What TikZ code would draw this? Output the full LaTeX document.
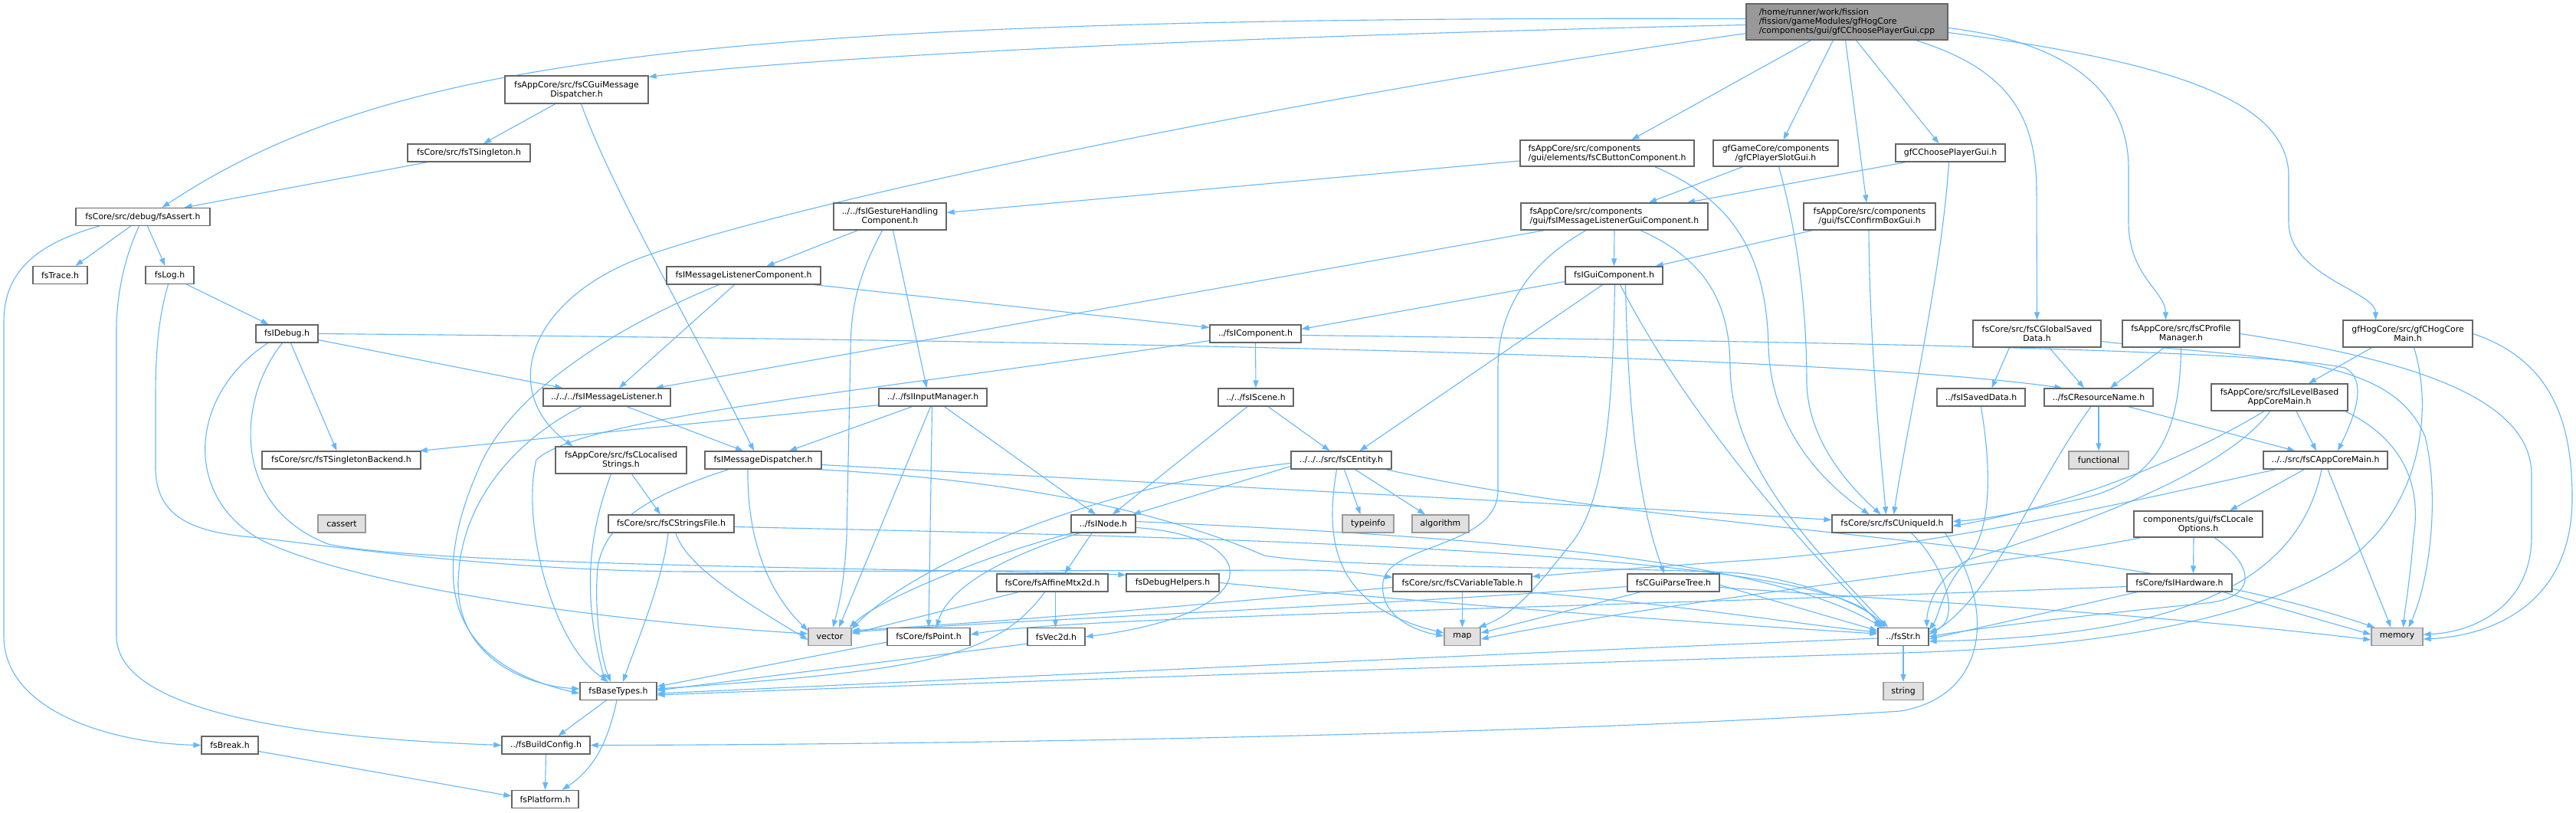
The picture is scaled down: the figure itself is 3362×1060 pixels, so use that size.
\documentclass[tikz,border=0pt]{standalone}
\usepackage{fontspec}
\setmainfont{DejaVu Sans}
\usetikzlibrary{arrows.meta,calc}
\definecolor{edgec}{HTML}{63B8FF}
\definecolor{bordc}{HTML}{666666}
\definecolor{sysb}{HTML}{999999}
\definecolor{sysf}{HTML}{E0E0E0}
\definecolor{mainf}{HTML}{999999}
\pgfdeclarelayer{bg}
\pgfdeclarelayer{edges}
\pgfsetlayers{bg,edges,main}
\begin{document}
\begin{tikzpicture}[x=1pt,y=-1pt,
  nbox/.style={draw=bordc, fill=white, line width=1.3pt, inner sep=0pt, minimum height=23pt,
    font=\fontsize{10.9}{12}\selectfont, align=center, text=black},
  sbox/.style={nbox, draw=sysb, fill=sysf},
  mbox/.style={nbox, fill=mainf},
  lnk/.style={draw=edgec, line width=1.1pt, -{Triangle[length=10pt,width=7pt]}}]
\begin{pgfonlayer}{bg}
\fill[white] (0,0) rectangle (3362,1060);
\end{pgfonlayer}
\useasboundingbox (0,0) rectangle (3362,1060);

% ---------------- nodes ----------------
\node[mbox, minimum width=263pt, minimum height=47pt, align=left] (main) at (2410.5,28.5) {/home/runner/work/fission\\/fission/gameModules/gfHogCore\\/components/gui/gfCChoosePlayerGui.cpp};
\node[nbox, minimum width=187pt, minimum height=36pt] (guimsgdisp) at (752.5,117) {fsAppCore/src/fsCGuiMessage\\Dispatcher.h};
\node[nbox, minimum width=160pt] (tsingleton) at (612,199.5) {fsCore/src/fsTSingleton.h};
\node[nbox, minimum width=175pt] (assert) at (186.5,283) {fsCore/src/debug/fsAssert.h};
\node[nbox, minimum width=71pt] (trace) at (78.5,359) {fsTrace.h};
\node[nbox, minimum width=63pt] (log) at (221.5,359) {fsLog.h};
\node[nbox, minimum width=81pt] (idebug) at (374.5,435.5) {fsIDebug.h};
\node[nbox, minimum width=166pt] (imsglistener) at (792,518.5) {../../../fsIMessageListener.h};
\node[nbox, minimum width=207pt] (tsbackend) at (445.5,600.5) {fsCore/src/fsTSingletonBackend.h};
\node[sbox, minimum width=62pt] (cassert) at (446,683.5) {cassert};
\node[nbox, minimum width=171pt, minimum height=35pt] (localised) at (810.5,600.5) {fsAppCore/src/fsCLocalised\\Strings.h};
\node[nbox, minimum width=164pt] (stringsfile) at (876,683.5) {fsCore/src/fsCStringsFile.h};
\node[nbox, minimum width=147pt, minimum height=35pt] (gesture) at (1161.5,282.5) {../../fsIGestureHandling\\Component.h};
\node[nbox, minimum width=201pt] (imlcomp) at (970.5,359.5) {fsIMessageListenerComponent.h};
\node[nbox, minimum width=119pt] (icomponent) at (1638.5,435.5) {../fsIComponent.h};
\node[nbox, minimum width=141pt] (inputmgr) at (1217.5,518.5) {../../fsIInputManager.h};
\node[nbox, minimum width=98pt] (iscene) at (1639,518.5) {../../fsIScene.h};
\node[nbox, minimum width=152pt] (imsgdisp) at (996,600.5) {fsIMessageDispatcher.h};
\node[nbox, minimum width=84pt] (inode) at (1440,683.5) {../fsINode.h};
\node[nbox, minimum width=131pt] (entity) at (1750.5,600.5) {../../../src/fsCEntity.h};
\node[nbox, minimum width=127pt] (iguicomp) at (2106.5,359.5) {fsIGuiComponent.h};
\node[sbox, minimum width=67pt] (typeinfo) at (1785.5,683.5) {typeinfo};
\node[sbox, minimum width=74pt] (algorithm) at (1880,683.5) {algorithm};
\node[nbox, minimum width=157pt] (uniqueid) at (2469.5,683.5) {fsCore/src/fsCUniqueId.h};
\node[nbox, minimum width=227pt, minimum height=34pt, align=left] (button) at (2097.5,200) {fsAppCore/src/components\\/gui/elements/fsCButtonComponent.h};
\node[nbox, minimum width=163pt, minimum height=34pt] (slotgui) at (2317.5,200) {gfGameCore/components\\/gfCPlayerSlotGui.h};
\node[nbox, minimum width=143pt] (choosegui) at (2545.5,199.5) {gfCChoosePlayerGui.h};
\node[nbox, minimum width=244pt, minimum height=35pt, align=left] (imlguicomp) at (2107,282.5) {fsAppCore/src/components\\/gui/fsIMessageListenerGuiComponent.h};
\node[nbox, minimum width=172pt, minimum height=35pt] (confirmbox) at (2440,282.5) {fsAppCore/src/components\\/gui/fsCConfirmBoxGui.h};
\node[nbox, minimum width=167pt, minimum height=35pt] (globalsaved) at (2658.5,435.5) {fsCore/src/fsCGlobalSaved\\Data.h};
\node[nbox, minimum width=153pt, minimum height=35pt] (profilemgr) at (2846.5,435.5) {fsAppCore/src/fsCProfile\\Manager.h};
\node[nbox, minimum width=169pt, minimum height=35pt] (hogcoremain) at (3142.5,435.5) {gfHogCore/src/gfCHogCore\\Main.h};
\node[nbox, minimum width=115pt] (isaveddata) at (2585.5,518.5) {../fsISavedData.h};
\node[nbox, minimum width=142pt] (resname) at (2739,518.5) {../fsCResourceName.h};
\node[nbox, minimum width=178pt, minimum height=35pt] (levelbased) at (2975,518.5) {fsAppCore/src/fsILevelBased\\AppCoreMain.h};
\node[sbox, minimum width=78pt] (functional) at (2739,600.5) {functional};
\node[nbox, minimum width=162pt] (appcoremain) at (3035,600.5) {../../src/fsCAppCoreMain.h};
\node[nbox, minimum width=168pt, minimum height=34pt] (localeopts) at (2869,684) {components/gui/fsCLocale\\Options.h};
\node[nbox, minimum width=137pt] (ihardware) at (2844.5,760.5) {fsCore/fsIHardware.h};
\node[sbox, minimum width=67pt] (memory) at (3128.5,831) {memory};
\node[nbox, minimum width=181pt] (vartable) at (1908.5,760.5) {fsCore/src/fsCVariableTable.h};
\node[nbox, minimum width=120pt] (parsetree) at (2184,760.5) {fsCGuiParseTree.h};
\node[sbox, minimum width=47pt] (map) at (1908.5,831) {map};
\node[nbox, minimum width=66pt] (str) at (2484,831) {../fsStr.h};
\node[sbox, minimum width=52pt] (string) at (2484,902) {string};
\node[nbox, minimum width=145pt] (affine) at (1373.5,760.5) {fsCore/fsAffineMtx2d.h};
\node[nbox, minimum width=121pt] (debughelpers) at (1530.5,760.5) {fsDebugHelpers.h};
\node[sbox, minimum width=56pt] (vector) at (1083,831) {vector};
\node[nbox, minimum width=108pt] (point) at (1212,831) {fsCore/fsPoint.h};
\node[nbox, minimum width=75pt] (vec2d) at (1378.5,831) {fsVec2d.h};
\node[nbox, minimum width=100pt] (basetypes) at (807,902) {fsBaseTypes.h};
\node[nbox, minimum width=74pt] (break) at (300,972.5) {fsBreak.h};
\node[nbox, minimum width=115pt] (buildconfig) at (712.5,972.5) {../fsBuildConfig.h};
\node[nbox, minimum width=87pt] (platform) at (711.5,1043) {fsPlatform.h};

% ---------------- edges ----------------
\begin{pgfonlayer}{edges}
% main
\draw[lnk] ($(main.west)+(0,4)$) .. controls (1700,45) and (1100,70) .. ($(guimsgdisp.north east)+(0,2)$);
\draw[lnk] ($(main.west)+(0,-4)$) .. controls (900,20) and (500,80) .. ($(assert.north)+(25,0)$);
\draw[lnk] ($(main.south west)+(0,-9)$) .. controls (1700,125) and (1050,260) .. (840,335) .. controls (690,390) and (650,510) .. ($(localised.north west)+(23,0)$);
\draw[lnk] ($(main.south)+(-47,0)$) -- ($(button.north)+(32,0)$);
\draw[lnk] ($(main.south)+(-18,0)$) -- ($(slotgui.north)+(10,0)$);
\draw[lnk] ($(main.south)+(-2,0)$) -- ($(confirmbox.north)+(-4,0)$);
\draw[lnk] ($(main.south)+(12,0)$) -- ($(choosegui.north)+(-15,0)$);
\draw[lnk] ($(main.south)+(90,0)$) .. controls (2620,90) and (2658,150) .. (2658,250) -- (globalsaved.north);
\draw[lnk] ($(main.east)+(0,8)$) .. controls (2700,55) and (2778,120) .. (2778,220) -- (2778,290) .. controls (2778,360) and (2826,380) .. ($(profilemgr.north)+(-20,0)$);
\draw[lnk] ($(main.east)+(0,14)$) .. controls (2830,80) and (2987,130) .. (2987,230) -- (2987,290) .. controls (2987,360) and (3100,380) .. ($(hogcoremain.north)+(-42,0)$);
% guimsgdisp, tsingleton
\draw[lnk] ($(guimsgdisp.south)+(-28,0)$) -- ($(tsingleton.north)+(19,0)$);
\draw[lnk] ($(guimsgdisp.south)+(6,0)$) .. controls (800,250) and (900,420) .. ($(imsgdisp.north)+(-12,0)$);
\draw[lnk] ($(tsingleton.south)+(-54,0)$) -- ($(assert.north)+(54,0)$);
% assert
\draw[lnk] ($(assert.south)+(-16,0)$) -- ($(trace.north)+(20,0)$);
\draw[lnk] ($(assert.south)+(6,0)$) -- ($(log.north)+(-6,0)$);
\draw[lnk] ($(assert.south west)+(31,0)$) .. controls (40,320) and (5,360) .. (5,420) -- (5,830) .. controls (5,930) and (150,970) .. (break.west);
\draw[lnk] ($(assert.south)+(-5,0)$) .. controls (165,330) and (152,380) .. (152,430) -- (152,830) .. controls (152,940) and (450,965) .. (buildconfig.west);
% log
\draw[lnk] ($(log.south)+(22,0)$) -- ($(idebug.north)+(-24,0)$);
\draw[lnk] ($(log.south)+(-2,0)$) .. controls (205,420) and (203,470) .. (203,520) -- (203,610) .. controls (203,680) and (260,696) .. (340,702) .. controls (520,725) and (700,745) .. (900,746) -- (1700,744) .. controls (1760,744) and (1790,750) .. ($(vartable.west)+(0,-7)$);
% idebug
\draw[lnk] ($(idebug.south east)+(0,-4)$) -- ($(imsglistener.north west)+(26,0)$);
\draw[lnk] ($(idebug.south)+(5,0)$) -- ($(tsbackend.north)+(-6,0)$);
\draw[lnk] (idebug.east) .. controls (1500,445) and (2400,465) .. ($(resname.north west)+(24,0)$);
\draw[lnk] ($(idebug.south)+(-25,0)$) .. controls (240,520) and (240,660) .. (352,710) .. controls (500,775) and (850,815) .. ($(vector.west)+(0,-4)$);
\draw[lnk] ($(idebug.south)+(-6,0)$) .. controls (310,520) and (300,660) .. (428,710) .. controls (560,740) and (1300,743) .. ($(debughelpers.north west)+(0,2)$);
% imsglistener
\draw[lnk] ($(imsglistener.south)+(26,0)$) -- ($(imsgdisp.north)+(-26,0)$);
\draw[lnk] ($(imsglistener.south)+(-33,0)$) .. controls (680,570) and (600,650) .. (598,760) .. controls (596,860) and (690,895) .. ($(basetypes.west)+(0,-3)$);
% imlcomp
\draw[lnk] ($(imlcomp.south east)+(-9,0)$) -- ($(icomponent.west)+(0,-8)$);
\draw[lnk] ($(imlcomp.south)+(-12,0)$) -- ($(imsglistener.north)+(16,0)$);
\draw[lnk] ($(imlcomp.south)+(-32,0)$) .. controls (820,420) and (680,500) .. (630,600) .. controls (570,730) and (560,860) .. ($(basetypes.west)+(0,3)$);
% gesture
\draw[lnk] ($(gesture.south)+(-42,0)$) -- ($(imlcomp.north)+(30,0)$);
\draw[lnk] ($(gesture.south)+(4,0)$) -- ($(inputmgr.north)+(-8,0)$);
\draw[lnk] ($(gesture.south)+(-10,0)$) .. controls (1120,360) and (1110,400) .. (1110,460) -- (1105,700) .. controls (1102,760) and (1095,790) .. ($(vector.north)+(4,0)$);
% inputmgr
\draw[lnk] ($(inputmgr.south west)+(0,-2)$) -- ($(tsbackend.north east)+(-2,0)$);
\draw[lnk] ($(inputmgr.south)+(-27,0)$) -- ($(imsgdisp.north)+(34,0)$);
\draw[lnk] ($(inputmgr.south)+(15,0)$) -- ($(inode.north)+(-10,0)$);
\draw[lnk] ($(inputmgr.south)+(-3,0)$) -- ($(vector.north)+(12,0)$);
\draw[lnk] ($(inputmgr.south)+(-1,0)$) -- (point.north);
% icomponent
\draw[lnk] (icomponent.south) -- (iscene.north);
\draw[lnk] ($(icomponent.south west)+(0,-3)$) .. controls (1100,515) and (760,545) .. (700,600) .. controls (680,680) and (720,840) .. ($(basetypes.north)+(-13,0)$);
\draw[lnk] ($(icomponent.east)+(0,2)$) .. controls (2300,445) and (2950,455) .. (3060,480) .. controls (3090,495) and (3075,540) .. ($(appcoremain.north)+(16,0)$);
% iscene
\draw[lnk] ($(iscene.south)+(-11,0)$) -- ($(inode.north)+(12,0)$);
\draw[lnk] ($(iscene.south)+(16,0)$) -- ($(entity.north)+(-15,0)$);
% entity
\draw[lnk] ($(entity.south)+(4,0)$) -- ($(typeinfo.north)+(-10,0)$);
\draw[lnk] ($(entity.south)+(18,0)$) -- ($(algorithm.north)+(-20,0)$);
\draw[lnk] ($(entity.west)+(0,8)$) -- ($(inode.north east)+(-4,0)$);
\draw[lnk] ($(entity.west)+(0,4)$) .. controls (1450,630) and (1200,730) .. ($(vector.north east)+(0,2)$);
\draw[lnk] ($(entity.south)+(-6,0)$) .. controls (1730,700) and (1735,790) .. ($(map.west)+(0,-5)$);
\draw[lnk] ($(entity.south east)+(-8,0)$) .. controls (2200,700) and (2750,700) .. ($(memory.north west)+(5,0)$);
% imsgdisp
\draw[lnk] ($(imsgdisp.south)+(-45,0)$) .. controls (850,645) and (790,680) .. (780,740) .. controls (775,800) and (785,860) .. ($(basetypes.north)+(-10,0)$);
\draw[lnk] ($(imsgdisp.south)+(-20,0)$) .. controls (975,700) and (1000,770) .. ($(vector.west)+(0,-8)$);
\draw[lnk] ($(imsgdisp.east)+(0,6)$) .. controls (1500,630) and (2100,660) .. ($(uniqueid.west)+(0,-5)$);
\draw[lnk] ($(imsgdisp.south east)+(-5,0)$) .. controls (1300,625) and (1500,660) .. (1650,725) .. controls (1750,742) and (2150,740) .. (2270,748) .. controls (2370,760) and (2440,795) .. ($(str.north west)+(10,0)$);
% localised, stringsfile
\draw[lnk] ($(localised.south)+(14,0)$) -- ($(stringsfile.north)+(-14,0)$);
\draw[lnk] ($(localised.south)+(-13,0)$) .. controls (775,680) and (755,760) .. ($(basetypes.north)+(-17,0)$);
\draw[lnk] ($(stringsfile.south)+(-4,0)$) .. controls (865,760) and (830,840) .. ($(basetypes.north)+(6,0)$);
\draw[lnk] ($(stringsfile.south)+(6,0)$) .. controls (895,740) and (980,790) .. ($(vector.west)+(0,4)$);
\draw[lnk] ($(stringsfile.east)+(0,4)$) .. controls (1500,700) and (2400,715) .. ($(str.north west)+(3,0)$);
% inode
\draw[lnk] ($(inode.south)+(-15,0)$) -- ($(affine.north)+(16,0)$);
\draw[lnk] ($(inode.south)+(-31,0)$) .. controls (1330,720) and (1240,760) .. ($(point.north)+(10,0)$);
\draw[lnk] ($(inode.south west)+(2,0)$) .. controls (1300,720) and (1150,780) .. ($(vector.north east)+(-3,0)$);
\draw[lnk] ($(inode.east)+(0,5)$) .. controls (1650,700) and (1660,800) .. (vec2d.east);
\draw[lnk] ($(inode.east)+(0,-3)$) .. controls (1900,700) and (2300,725) .. ($(str.north west)+(6,0)$);
% affine, point, vec2d
\draw[lnk] ($(affine.south)+(4,0)$) -- ($(vec2d.north)+(-1,0)$);
\draw[lnk] ($(affine.south west)+(29,0)$) -- ($(vector.east)+(0,-4)$);
\draw[lnk] ($(affine.south)+(-10,0)$) .. controls (1300,860) and (1200,875) .. ($(basetypes.east)+(0,-3)$);
\draw[lnk] ($(point.west)+(0,7)$) -- ($(basetypes.east)+(0,-6)$);
\draw[lnk] ($(vec2d.south west)+(0,-3)$) -- ($(basetypes.east)+(0,-1)$);
% debughelpers, vartable, parsetree
\draw[lnk] (debughelpers.east) .. controls (1900,790) and (2250,815) .. ($(str.west)+(0,-4)$);
\draw[lnk] (vartable.south) -- (map.north);
\draw[lnk] ($(vartable.south east)+(-5,0)$) .. controls (2200,790) and (2350,815) .. ($(str.west)+(0,-6)$);
\draw[lnk] ($(vartable.west)+(0,6)$) .. controls (1500,795) and (1300,812) .. ($(vector.north east)+(0,4)$);
\draw[lnk] ($(parsetree.south)+(-43,0)$) -- ($(map.east)+(0,-5)$);
\draw[lnk] ($(parsetree.east)+(0,3)$) -- ($(str.west)+(0,-8)$);
\draw[lnk] ($(parsetree.west)+(0,5)$) .. controls (1800,790) and (1350,808) .. ($(vector.north east)+(0,6)$);
\draw[lnk] ($(parsetree.east)+(0,6)$) .. controls (2500,785) and (2800,800) .. ($(memory.west)+(0,4)$);
% str
\draw[lnk] (str.south) -- (string.north);
\draw[lnk] ($(str.west)+(0,2)$) .. controls (1900,855) and (1300,885) .. ($(basetypes.east)+(0,3)$);
% uniqueid
\draw[lnk] ($(uniqueid.south)+(25,0)$) .. controls (2540,740) and (2560,810) .. ($(str.east)+(0,-6)$);
\draw[lnk] ($(uniqueid.south east)+(-10,0)$) .. controls (2610,800) and (2590,910) .. (2480,928) .. controls (2000,960) and (1200,972) .. (buildconfig.east);
% basetypes, break, buildconfig
\draw[lnk] ($(basetypes.south)+(-16,0)$) -- ($(buildconfig.north)+(16,0)$);
\draw[lnk] ($(basetypes.south)+(-2,0)$) .. controls (795,960) and (780,1000) .. ($(platform.north east)+(-22,0)$);
\draw[lnk] ($(break.east)+(0,8)$) -- ($(platform.west)+(0,-4)$);
\draw[lnk] (buildconfig.south) -- (platform.north);
% button, slotgui, choosegui, confirmbox
\draw[lnk] ($(button.west)+(0,10)$) -- ($(gesture.east)+(0,-5)$);
\draw[lnk] ($(button.south)+(62,0)$) .. controls (2260,260) and (2305,330) .. (2308,450) .. controls (2310,560) and (2380,630) .. ($(uniqueid.north)+(-30,0)$);
\draw[lnk] ($(slotgui.south)+(-43,0)$) -- ($(imlguicomp.north)+(45,0)$);
\draw[lnk] ($(slotgui.south)+(4,0)$) .. controls (2345,300) and (2358,400) .. (2358,500) .. controls (2360,580) and (2420,640) .. ($(uniqueid.north)+(-15,0)$);
\draw[lnk] ($(choosegui.south west)+(14,0)$) -- ($(imlguicomp.north)+(95,0)$);
\draw[lnk] ($(choosegui.south)+(-2,0)$) .. controls (2535,350) and (2490,550) .. ($(uniqueid.north)+(2,0)$);
\draw[lnk] ($(confirmbox.south west)+(12,0)$) -- ($(iguicomp.north east)+(-10,0)$);
\draw[lnk] ($(confirmbox.south)+(-1,0)$) .. controls (2440,450) and (2455,600) .. ($(uniqueid.north)+(-8,0)$);
% imlguicomp
\draw[lnk] (imlguicomp.south) -- (iguicomp.north);
\draw[lnk] ($(imlguicomp.south west)+(31,0)$) -- ($(imsglistener.north east)+(-20,0)$);
\draw[lnk] ($(imlguicomp.south)+(-37,0)$) .. controls (2000,340) and (1955,400) .. (1955,480) -- (1955,640) .. controls (1955,715) and (1810,710) .. (1805,760) .. controls (1800,800) and (1840,822) .. ($(map.west)+(0,-1)$);
\draw[lnk] ($(imlguicomp.south)+(34,0)$) .. controls (2230,340) and (2258,400) .. (2258,480) .. controls (2260,600) and (2350,700) .. ($(str.north)+(-20,0)$);
% iguicomp
\draw[lnk] ($(iguicomp.west)+(0,8)$) -- ($(icomponent.east)+(0,-6)$);
\draw[lnk] ($(iguicomp.south)+(-15,0)$) -- ($(entity.north)+(24,0)$);
\draw[lnk] ($(iguicomp.south)+(1,0)$) .. controls (2105,500) and (2100,650) .. (2050,710) .. controls (2010,760) and (1980,800) .. ($(map.north east)+(-3,0)$);
\draw[lnk] ($(iguicomp.south)+(15,0)$) .. controls (2125,550) and (2140,660) .. ($(parsetree.north)+(-12,0)$);
\draw[lnk] ($(iguicomp.south)+(8,0)$) .. controls (2180,500) and (2300,660) .. ($(str.north west)+(8,0)$);
% globalsaved, isaveddata, resname
\draw[lnk] ($(globalsaved.south)+(-36,0)$) -- ($(isaveddata.north)+(14,0)$);
\draw[lnk] ($(globalsaved.south)+(16,0)$) -- ($(resname.north)+(-19,0)$);
\draw[lnk] ($(globalsaved.east)+(0,10)$) .. controls (2950,470) and (3120,460) .. (3165,570) .. controls (3185,650) and (3170,760) .. ($(memory.north)+(15,0)$);
\draw[lnk] (isaveddata.south) .. controls (2600,620) and (2600,700) .. (2560,740) .. controls (2535,770) and (2530,805) .. ($(str.east)+(0,-9)$);
\draw[lnk] (resname.south) -- (functional.north);
\draw[lnk] ($(resname.south east)+(-33,0)$) -- ($(appcoremain.north west)+(42,0)$);
\draw[lnk] ($(resname.south)+(-10,0)$) .. controls (2650,640) and (2600,780) .. ($(str.east)+(0,-3)$);
% profilemgr
\draw[lnk] ($(profilemgr.south)+(-22,0)$) -- ($(resname.north)+(15,0)$);
\draw[lnk] (profilemgr.south) .. controls (2845,560) and (2820,625) .. (2720,650) .. controls (2640,668) and (2590,678) .. ($(uniqueid.east)+(0,-3)$);
\draw[lnk] (profilemgr.east) .. controls (3150,470) and (3304,520) .. (3304,620) -- (3304,700) .. controls (3304,790) and (3230,825) .. ($(memory.east)+(0,-3)$);
% hogcoremain
\draw[lnk] ($(hogcoremain.south)+(-47,0)$) -- ($(levelbased.north)+(38,0)$);
\draw[lnk] ($(hogcoremain.south)+(8,0)$) .. controls (3180,550) and (3150,680) .. (3050,740) .. controls (2900,830) and (2650,848) .. (2450,853) .. controls (1900,870) and (1300,890) .. ($(basetypes.east)+(0,5)$);
\draw[lnk] (hogcoremain.east) .. controls (3330,470) and (3357,550) .. (3357,650) .. controls (3357,790) and (3250,830) .. ($(memory.east)+(0,3)$);
% levelbased
\draw[lnk] ($(levelbased.south)+(22,0)$) -- ($(appcoremain.north)+(-12,0)$);
\draw[lnk] ($(levelbased.south)+(-20,0)$) .. controls (2850,600) and (2700,660) .. ($(uniqueid.east)+(0,3)$);
\draw[lnk] ($(levelbased.south)+(-12,0)$) .. controls (2900,620) and (2700,690) .. (2570,730) .. controls (2530,750) and (2515,790) .. ($(str.north east)+(-3,0)$);
\draw[lnk] ($(levelbased.south east)+(-4,0)$) .. controls (3150,580) and (3158,650) .. (3150,700) .. controls (3145,760) and (3138,800) .. ($(memory.north)+(8,0)$);
% appcoremain
\draw[lnk] ($(appcoremain.south west)+(54,0)$) -- ($(localeopts.north)+(41,0)$);
\draw[lnk] ($(appcoremain.south)+(3,0)$) -- ($(memory.north)+(-8,0)$);
\draw[lnk] ($(appcoremain.south west)+(17,0)$) .. controls (2800,650) and (2550,710) .. (2300,730) .. controls (2150,740) and (2050,748) .. ($(vartable.east)+(0,-8)$);
\draw[lnk] ($(appcoremain.south)+(-5,0)$) .. controls (3000,760) and (2850,830) .. ($(str.east)+(0,6)$);
% localeopts
\draw[lnk] ($(localeopts.south)+(-6,0)$) -- ($(ihardware.north)+(18,0)$);
\draw[lnk] ($(localeopts.south)+(21,0)$) .. controls (2945,740) and (2945,780) .. (2880,787) .. controls (2700,805) and (2580,820) .. (str.east);
\draw[lnk] ($(localeopts.south west)+(10,0)$) .. controls (2600,740) and (2200,780) .. ($(map.east)+(0,3)$);
% ihardware
\draw[lnk] ($(ihardware.south east)+(-12,0)$) -- ($(memory.west)+(0,-3)$);
\draw[lnk] ($(ihardware.south west)+(14,0)$) -- ($(str.east)+(0,3)$);
\draw[lnk] ($(ihardware.west)+(0,5)$) .. controls (2000,795) and (1400,805) .. ($(point.east)+(0,-3)$);
\end{pgfonlayer}
\end{tikzpicture}
\end{document}
